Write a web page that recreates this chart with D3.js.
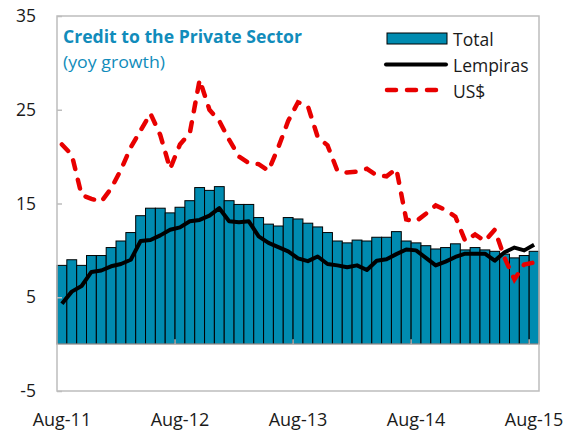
<!DOCTYPE html>
<html>
<head>
<meta charset="utf-8">
<script src="https://cdn.jsdelivr.net/npm/d3@7"></script>
<style>
body { margin: 0; background: #fff; }
text { font-family: "Open Sans", "Noto Sans", sans-serif; }
</style>
</head>
<body>
<svg id="creditgraph" width="564" height="430"></svg>
<script>
// monthly categories Aug-11 .. Aug-15
var months = d3.timeMonth.range(new Date(2011, 7, 1), new Date(2015, 8, 1));
var tickLabels = ["Aug-11", "Aug-12", "Aug-13", "Aug-14", "Aug-15"];
var yTicks = [-5, 5, 15, 25, 35];

var total = [8.4, 9.0, 8.4, 9.45, 9.45, 10.3, 11.0, 11.9, 13.7, 14.5,
    14.5, 14.0, 14.6, 15.3, 16.7, 16.4, 16.8, 15.3, 14.9, 14.9,
    13.5, 12.8, 12.6, 13.5, 13.35, 12.9, 12.5, 11.9, 11.0, 10.8,
    11.1, 11.0, 11.4, 11.4, 12.0, 11.0, 10.8, 10.5, 10.15, 10.3,
    10.7, 10.05, 10.3, 10.05, 9.9, 9.6, 9.2, 9.45, 9.9];

var lempiras = [4.3, 5.6, 6.2, 7.7, 7.85, 8.3, 8.55, 9.0, 11.0, 11.1,
    11.6, 12.2, 12.45, 13.1, 13.25, 13.7, 14.5, 13.1, 13.0, 13.1,
    11.5, 10.8, 10.35, 9.9, 9.15, 8.85, 9.35, 8.55, 8.4, 8.2,
    8.4, 7.9, 8.9, 9.05, 9.6, 10.1, 10.0, 9.2, 8.4, 8.8,
    9.3, 9.65, 9.65, 9.65, 8.9, 9.8, 10.3, 10.0, 10.6];

var usd = [21.3, 20.2, 15.9, 15.5, 15.2, 16.6, 18.6, 21.0, 22.8, 24.6,
    22.3, 18.7, 21.3, 22.5, 28.2, 25.0, 23.8, 21.8, 20.0, 19.3,
    19.2, 18.5, 21.0, 23.8, 25.8, 25.4, 22.1, 21.2, 18.5, 18.3,
    18.4, 18.7, 18.0, 17.9, 18.7, 13.3, 13.1, 13.9, 14.8, 14.3,
    13.6, 11.0, 11.7, 11.0, 12.2, 9.2, 6.9, 8.5, 8.7];

var fmt = d3.timeFormat("%b-%y");
var dataset = months.map(function(m, i) {
    return { Month: fmt(m), Total: total[i], Lempiras: lempiras[i], USD: usd[i] };
});

var xScale = d3.scaleBand()
    .domain(dataset.map(function(d) { return d.Month; }))
    .range([57, 539])
    .padding(0);

var yScale = d3.scaleLinear()
    .domain([-5, 35])
    .range([391, 16]);

var svg = d3.select("#creditgraph");

var drawFrame = function() {
    svg.append("rect")
        .attr("x", 57)
        .attr("y", 16)
        .attr("width", 482)
        .attr("height", 375)
        .attr("fill", "none")
        .attr("stroke", "#bdbdbd")
        .attr("stroke-width", 1.5);
};

var drawBars = function(data) {
    svg.append("g")
        .attr("class", "bars")
        .selectAll("rect")
        .data(data)
        .enter()
        .append("rect")
        .attr("x", function(d) { return xScale(d.Month); })
        .attr("y", function(d) { return yScale(d.Total); })
        .attr("width", xScale.bandwidth())
        .attr("height", function(d) { return yScale(0) - yScale(d.Total); })
        .attr("fill", "#008bb0")
        .attr("stroke", "black")
        .attr("stroke-width", 1);
};

var drawLines = function(data) {
    var lineL = d3.line()
        .x(function(d) { return xScale(d.Month) + xScale.bandwidth() / 2; })
        .y(function(d) { return yScale(d.Lempiras); });
    var lineU = d3.line()
        .x(function(d) { return xScale(d.Month) + xScale.bandwidth() / 2; })
        .y(function(d) { return yScale(d.USD); });

    svg.append("path")
        .datum(data)
        .attr("d", lineU)
        .attr("fill", "none")
        .attr("stroke", "#e80000")
        .attr("stroke-width", 4.5)
        .attr("stroke-linecap", "round")
        .attr("stroke-dasharray", "9,11");

    svg.append("path")
        .datum(data)
        .attr("d", lineL)
        .attr("fill", "none")
        .attr("stroke", "black")
        .attr("stroke-width", 4)
        .attr("stroke-linejoin", "round");
};

var drawAxes = function(data) {
    var yAxis = d3.axisLeft(yScale)
        .tickValues(yTicks)
        .tickFormat(function(d) { return String(d); })
        .tickSize(-5)
        .tickPadding(21);

    var ya = svg.append("g")
        .attr("transform", "translate(57,0)")
        .call(yAxis);
    ya.select(".domain").remove();
    ya.selectAll(".tick line").attr("stroke", "#bdbdbd").attr("stroke-width", 1.5);
    ya.selectAll(".tick text")
        .attr("font-size", 17.5)
        .attr("fill", "#1a1a1a")
        .style("font-family", "'Open Sans', sans-serif");

    // zero line with yearly ticks on band boundaries
    var yearStarts = data.filter(function(d, i) { return i % 12 == 0 && i > 0; });
    var xa = svg.append("g");
    xa.append("line")
        .attr("x1", 57).attr("x2", 539)
        .attr("y1", yScale(0)).attr("y2", yScale(0))
        .attr("stroke", "#b5b5b5")
        .attr("stroke-width", 1.5);
    xa.selectAll(".xt")
        .data(yearStarts)
        .enter()
        .append("line")
        .attr("x1", function(d) { return xScale(d.Month); })
        .attr("x2", function(d) { return xScale(d.Month); })
        .attr("y1", yScale(0))
        .attr("y2", yScale(0) - 5)
        .attr("stroke", "#b5b5b5")
        .attr("stroke-width", 1.5);

    xa.selectAll(".xl")
        .data(tickLabels)
        .enter()
        .append("text")
        .text(function(d) { return d; })
        .attr("x", function(d) { return xScale(d) + xScale.bandwidth() / 2; })
        .attr("y", 426)
        .attr("text-anchor", "middle")
        .attr("font-size", 18)
        .attr("fill", "#1a1a1a");
};

var createLabels = function() {
    var labels = svg.append("g").classed("labels", true);
    labels.append("text")
        .text("Credit to the Private Sector")
        .attr("x", 63)
        .attr("y", 43)
        .attr("font-size", 17)
        .attr("font-weight", "bold")
        .attr("textLength", 239)
        .attr("lengthAdjust", "spacingAndGlyphs")
        .attr("fill", "#118cbb");
    labels.append("text")
        .text("(yoy growth)")
        .attr("x", 63)
        .attr("y", 68)
        .attr("font-size", 17)
        .attr("textLength", 102)
        .attr("lengthAdjust", "spacingAndGlyphs")
        .attr("fill", "#118cbb");

    var legend = svg.append("g").classed("legend", true);
    legend.append("rect")
        .attr("x", 387).attr("y", 33)
        .attr("width", 60).attr("height", 11)
        .attr("fill", "#008bb0")
        .attr("stroke", "black")
        .attr("stroke-width", 1);
    legend.append("line")
        .attr("x1", 386).attr("x2", 446)
        .attr("y1", 64.5).attr("y2", 64.5)
        .attr("stroke", "black")
        .attr("stroke-width", 4)
        .attr("stroke-linecap", "round");
    legend.append("line")
        .attr("x1", 387).attr("x2", 446)
        .attr("y1", 90).attr("y2", 90)
        .attr("stroke", "#e80000")
        .attr("stroke-width", 4.5)
        .attr("stroke-linecap", "round")
        .attr("stroke-dasharray", "9,11");
    var names = ["Total", "Lempiras", "US$"];
    legend.selectAll(".lt")
        .data(names)
        .enter()
        .append("text")
        .text(function(d) { return d; })
        .attr("x", 453)
        .attr("y", function(d, i) { return 45.5 + i * 26; })
        .attr("font-size", 17.5)
        .attr("fill", "#1a1a1a");
};

drawBars(dataset);
drawAxes(dataset);
drawLines(dataset);
drawFrame();
createLabels();
</script>
</body>
</html>
